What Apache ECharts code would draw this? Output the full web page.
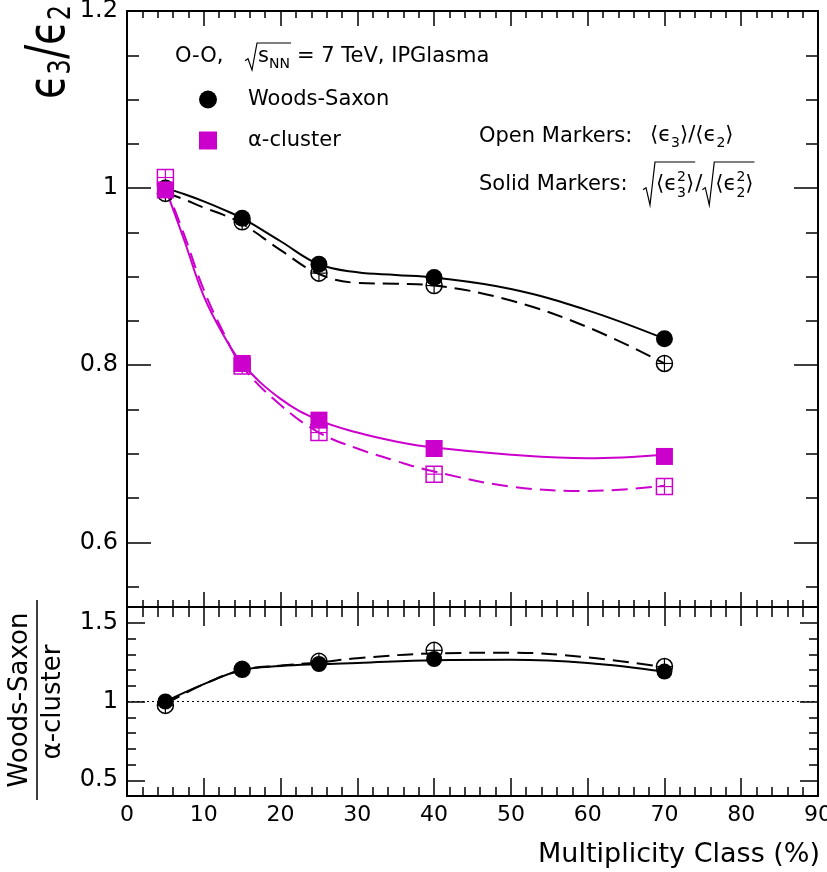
<!DOCTYPE html>
<html><head><meta charset="utf-8">
<script src="https://cdn.jsdelivr.net/npm/echarts@6/dist/echarts.min.js"></script>
<style>html,body{margin:0;padding:0;background:#fff}#c{width:827px;height:872px}</style>
</head><body><div id="c"></div>
<script>
// ---------------- data ----------------
const categories = [5, 15, 25, 40, 70];            // multiplicity class (%)
const wsSolid    = [1.000, 0.966, 0.914, 0.899, 0.830];
const wsOpen     = [0.994, 0.962, 0.904, 0.890, 0.802];
const alphaSolid = [0.998, 0.802, 0.738, 0.706, 0.697];
const alphaOpen  = [1.012, 0.799, 0.724, 0.677, 0.663];
const ratioSolid = [1.000, 1.204, 1.238, 1.270, 1.190];
const ratioOpen  = [0.975, 1.204, 1.255, 1.325, 1.222];

// fit curves
const fitX          = [5, 7.5, 10, 12.5, 15, 20, 25, 30, 35, 40, 50, 60, 70];
const wsSolidFit    = [1.000, 0.993, 0.985, 0.976, 0.966, 0.940, 0.914, 0.905, 0.902, 0.899, 0.886, 0.862, 0.830];
const wsOpenFit     = [0.995, 0.987, 0.978, 0.970, 0.960, 0.930, 0.903, 0.893, 0.892, 0.890, 0.873, 0.843, 0.802];
const alphaSolidFit = [1.000, 0.940, 0.878, 0.835, 0.802, 0.762, 0.738, 0.724, 0.714, 0.707, 0.699, 0.695, 0.699];
const alphaOpenFit  = [1.003, 0.946, 0.885, 0.838, 0.799, 0.755, 0.724, 0.706, 0.692, 0.680, 0.663, 0.658, 0.664];
const ratioFitX     = [5, 10, 15, 20, 25, 30, 40, 50, 60, 70];
const ratioSolidFit = [1.000, 1.110, 1.200, 1.225, 1.237, 1.245, 1.262, 1.265, 1.245, 1.190];
const ratioOpenFit  = [0.985, 1.110, 1.200, 1.228, 1.248, 1.275, 1.305, 1.310, 1.280, 1.218];

// ticks
const xMin = 0, xMax = 90, xStep = 10;
const yTopMin = 0.527, yTopMax = 1.2;
const yTopMajor = [0.6, 0.8, 1.0, 1.2];
const yTopMinor = [0.55, 0.6, 0.65, 0.7, 0.75, 0.8, 0.85, 0.9, 0.95, 1.0, 1.05, 1.1, 1.15, 1.2];
const yBotMin = 0.4, yBotMax = 1.6;
const yBotMajor = [0.5, 1.0, 1.5];
const yBotMinor = [0.4, 0.5, 0.6, 0.7, 0.8, 0.9, 1.0, 1.1, 1.2, 1.3, 1.4, 1.5, 1.6];

// ---------------- helpers ----------------
const FONT = 'DejaVu Sans';
const MAG = '#cc00cc';
const cctx = document.createElement('canvas').getContext('2d');
function tw(t, size) { cctx.font = size + 'px "' + FONT + '"'; return cctx.measureText(t).width; }
function txt(x, y, t, size, extra) {
  return { type: 'text', x: x, y: y, silent: true, z: 100,
    style: Object.assign({ text: t, fontSize: size, fontFamily: FONT, fill: '#000',
      align: 'left', textAlign: 'left', verticalAlign: 'middle', textVerticalAlign: 'middle' }, extra || {}) };
}
function flow(x, base, tokens, out) {
  for (const tk of tokens) {
    if (tk.stack) {
      const s = tk.size;
      out.push(txt(x, base - tk.up - 0.35 * s, tk.stack[0], s));
      out.push(txt(x, base + tk.down - 0.35 * s, tk.stack[1], s));
      x += Math.max(tw(tk.stack[0], s), tw(tk.stack[1], s)) + (tk.gap || 0);
    } else {
      out.push(txt(x, base + (tk.shift || 0) - 0.35 * tk.size, tk.t, tk.size));
      x += tw(tk.t, tk.size) + (tk.gap || 0);
    }
  }
  return x;
}
// rotated (bottom-to-top) text run; cx = screen x of the glyph centre line
function flowRot(cx, y, sy, tokens, out) {
  for (const tk of tokens) {
    const e = txt(cx + (tk.shift || 0), y, tk.t, tk.size);
    e.rotation = Math.PI / 2;
    e.scaleY = sy;
    out.push(e);
    y -= tw(tk.t, tk.size) + (tk.gap || 0);
  }
  return y;
}
function radical(x, top, bottom, endX) {
  const mid = (top + bottom) / 2 + (bottom - top) * 0.12;
  return { type: 'polyline', silent: true, z: 100,
    shape: { points: [[x, mid + 1], [x + 3, mid - 1], [x + 7, bottom], [x + 12, top], [endX, top]] },
    style: { stroke: '#000', lineWidth: 1.2, fill: null } };
}
function pts(xs, ys) { return xs.map((x, i) => [x, ys[i]]); }

function openMarker(shape, color, size) {
  return function (params, api) {
    const p = api.coord([api.value(0), api.value(1)]);
    const h = size / 2;
    const ch = [];
    if (shape === 'circle') ch.push({ type: 'circle', shape: { cx: p[0], cy: p[1], r: h }, style: { fill: 'none', stroke: color, lineWidth: 1.5 } });
    else ch.push({ type: 'rect', shape: { x: p[0] - h, y: p[1] - h, width: size, height: size }, style: { fill: 'none', stroke: color, lineWidth: 1.5 } });
    ch.push({ type: 'line', shape: { x1: p[0], y1: p[1] - h, x2: p[0], y2: p[1] + h }, style: { stroke: color, lineWidth: 1.2 } });
    ch.push({ type: 'line', shape: { x1: p[0] - h, y1: p[1], x2: p[0] + h, y2: p[1] }, style: { stroke: color, lineWidth: 1.2 } });
    return { type: 'group', children: ch };
  };
}

// ---------------- axes ----------------
const G0 = { left: 127, top: 11, width: 691, height: 596, containLabel: false, outerBoundsMode: 'none' };
const G1 = { left: 127, top: 607, width: 691, height: 189, containLabel: false, outerBoundsMode: 'none' };
const lineSt = { color: '#000', width: 2 };
function xAx(grid, pos, major, minor, labels) {
  return { type: 'value', gridIndex: grid, position: pos, min: xMin, max: xMax, interval: xStep,
    axisLine: { show: true, onZero: false, lineStyle: lineSt },
    axisTick: { show: true, inside: true, length: major, lineStyle: { color: '#000', width: 1.5 } },
    minorTick: { show: true, splitNumber: 5, length: minor, lineStyle: { color: '#000', width: 1.5 } },
    axisLabel: { show: labels, showMinLabel: true, showMaxLabel: true, hideOverlap: false, margin: 8, fontSize: 22, fontFamily: FONT, color: '#000' },
    splitLine: { show: false }, minorSplitLine: { show: false } };
}
function yAx(grid, pos, min, max, vals, len, labels, line) {
  return { type: 'value', gridIndex: grid, position: pos, min: min, max: max,
    axisLine: { show: line, onZero: false, lineStyle: lineSt },
    axisTick: { show: true, inside: true, length: len, customValues: vals, lineStyle: { color: '#000', width: 1.5 } },
    axisLabel: { show: labels, customValues: vals, margin: 9, fontSize: 24, fontFamily: FONT, color: '#000' },
    splitLine: { show: false } };
}

// ---------------- graphics (text annotations) ----------------
const gfx = [];
// y title top: ϵ3/ϵ2
flowRot(50, 99, 1.3, [
  { t: 'ϵ', size: 40 }, { t: '3', size: 24, shift: 12 }, { t: '/', size: 42 },
  { t: 'ϵ', size: 40 }, { t: '2', size: 24, shift: 12 }], gfx);
// y title bottom: fraction
(function () {
  const a = txt(20, 700, 'Woods-Saxon', 26, { align: 'center', textAlign: 'center' }); a.rotation = Math.PI / 2; gfx.push(a);
  const b = txt(53, 702, 'α-cluster', 26, { align: 'center', textAlign: 'center' }); b.rotation = Math.PI / 2; gfx.push(b);
  gfx.push({ type: 'line', silent: true, shape: { x1: 37, y1: 600, x2: 37, y2: 800 }, style: { stroke: '#000', lineWidth: 1.5 } });
})();
// x title
gfx.push(txt(820, 855, 'Multiplicity Class (%)', 27, { align: 'right', textAlign: 'right' }));
// header line
gfx.push(txt(175, 57, 'O-O,', 21));
gfx.push(radical(245, 43, 70, 291));
flow(258, 64, [{ t: 's', size: 21 }, { t: 'NN', size: 14, shift: 5 }], gfx);
gfx.push(txt(297, 57, '= 7 TeV, IPGlasma', 21));
// open markers note
gfx.push(txt(479, 137, 'Open Markers:', 21));
flow(650, 143, [
  { t: '⟨', size: 21 }, { t: 'ϵ', size: 21 }, { t: '3', size: 14, shift: 5 }, { t: '⟩', size: 21 },
  { t: '/', size: 21 },
  { t: '⟨', size: 21 }, { t: 'ϵ', size: 21 }, { t: '2', size: 14, shift: 5 }, { t: '⟩', size: 21 }], gfx);
// solid markers note
gfx.push(txt(479, 185, 'Solid Markers:', 21));
(function () {
  const b = 192;
  const x1 = flow(656, b, [{ t: '⟨', size: 21 }, { t: 'ϵ', size: 21 }, { stack: ['2', '3'], size: 14, up: 10, down: 6 }, { t: '⟩', size: 21 }], gfx);
  gfx.push(radical(643, 162, 205, x1 + 1));
  const x2 = flow(x1 + 1, b, [{ t: '/', size: 21 }], gfx);
  const x3 = flow(x2 + 13, b, [{ t: '⟨', size: 21 }, { t: 'ϵ', size: 21 }, { stack: ['2', '2'], size: 14, up: 10, down: 6 }, { t: '⟩', size: 21 }], gfx);
  gfx.push(radical(x2, 162, 205, x3 + 1));
})();

// ---------------- option ----------------
const option = {
  animation: false,
  backgroundColor: '#fff',
  textStyle: { fontFamily: FONT },
  grid: [G0, G1],
  legend: {
    orient: 'vertical', left: 194, top: 84, itemWidth: 18, itemHeight: 18, itemGap: 20,
    selectedMode: false,
    textStyle: { fontSize: 21, fontFamily: FONT, color: '#000', padding: [0, 0, 0, 26], lineHeight: 18 },
    data: [{ name: 'Woods-Saxon', icon: 'circle' }, { name: 'α-cluster', icon: 'rect' }]
  },
  xAxis: [
    xAx(0, 'bottom', 15, 7, false),
    xAx(0, 'top', 15, 7, false),
    xAx(1, 'bottom', 18, 9, true),
    xAx(1, 'top', 19, 10, false)
  ],
  yAxis: [
    yAx(0, 'left', yTopMin, yTopMax, yTopMajor, 24, true, true),
    yAx(0, 'left', yTopMin, yTopMax, yTopMinor, 12, false, false),
    yAx(0, 'right', yTopMin, yTopMax, yTopMajor, 24, false, true),
    yAx(0, 'right', yTopMin, yTopMax, yTopMinor, 12, false, false),
    yAx(1, 'left', yBotMin, yBotMax, yBotMajor, 18, true, true),
    yAx(1, 'left', yBotMin, yBotMax, yBotMinor, 9, false, false),
    yAx(1, 'right', yBotMin, yBotMax, yBotMajor, 18, false, true),
    yAx(1, 'right', yBotMin, yBotMax, yBotMinor, 9, false, false)
  ],
  series: [
    // top panel fits
    { type: 'line', name: 'wsFitSolid', xAxisIndex: 0, yAxisIndex: 0, data: pts(fitX, wsSolidFit), smooth: 0.4, showSymbol: false, silent: true,
      lineStyle: { color: '#000', width: 2 } },
    { type: 'line', name: 'wsFitOpen', xAxisIndex: 0, yAxisIndex: 0, data: pts(fitX, wsOpenFit), smooth: 0.4, showSymbol: false, silent: true,
      lineStyle: { color: '#000', width: 2, type: [16, 8] } },
    { type: 'line', name: 'alFitSolid', xAxisIndex: 0, yAxisIndex: 0, data: pts(fitX, alphaSolidFit), smooth: 0.4, showSymbol: false, silent: true,
      lineStyle: { color: MAG, width: 2 } },
    { type: 'line', name: 'alFitOpen', xAxisIndex: 0, yAxisIndex: 0, data: pts(fitX, alphaOpenFit), smooth: 0.4, showSymbol: false, silent: true,
      lineStyle: { color: MAG, width: 2, type: [16, 8] } },
    // open markers
    { type: 'custom', name: 'wsOpen', xAxisIndex: 0, yAxisIndex: 0, data: pts(categories, wsOpen), renderItem: openMarker('circle', '#000', 16), silent: true, z: 5 },
    { type: 'custom', name: 'alOpen', xAxisIndex: 0, yAxisIndex: 0, data: pts(categories, alphaOpen), renderItem: openMarker('rect', MAG, 16), silent: true, z: 5 },
    // solid markers
    { type: 'scatter', name: 'Woods-Saxon', xAxisIndex: 0, yAxisIndex: 0, data: pts(categories, wsSolid), symbol: 'circle', symbolSize: 17,
      itemStyle: { color: '#000', opacity: 1 }, z: 6 },
    { type: 'scatter', name: 'α-cluster', xAxisIndex: 0, yAxisIndex: 0, data: pts(categories, alphaSolid), symbol: 'rect', symbolSize: 17,
      itemStyle: { color: MAG, opacity: 1 }, z: 6 },
    // bottom panel
    { type: 'line', name: 'ratioFitSolid', xAxisIndex: 2, yAxisIndex: 4, data: pts(ratioFitX, ratioSolidFit), smooth: 0.4, showSymbol: false, silent: true,
      lineStyle: { color: '#000', width: 2 },
      markLine: { silent: true, symbol: 'none', label: { show: false }, lineStyle: { color: '#000', width: 1, type: [2, 3] }, data: [{ yAxis: 1 }] } },
    { type: 'line', name: 'ratioFitOpen', xAxisIndex: 2, yAxisIndex: 4, data: pts(ratioFitX, ratioOpenFit), smooth: 0.4, showSymbol: false, silent: true,
      lineStyle: { color: '#000', width: 2, type: [16, 8] } },
    { type: 'custom', name: 'ratioOpen', xAxisIndex: 2, yAxisIndex: 4, data: pts(categories, ratioOpen), renderItem: openMarker('circle', '#000', 16), silent: true, z: 5 },
    { type: 'scatter', name: 'ratioSolid', xAxisIndex: 2, yAxisIndex: 4, data: pts(categories, ratioSolid), symbol: 'circle', symbolSize: 16,
      itemStyle: { color: '#000', opacity: 1 }, z: 6 }
  ],
  graphic: gfx
};
const chart = echarts.init(document.getElementById('c'), null, { renderer: 'canvas' });
chart.setOption(option);
</script></body></html>
